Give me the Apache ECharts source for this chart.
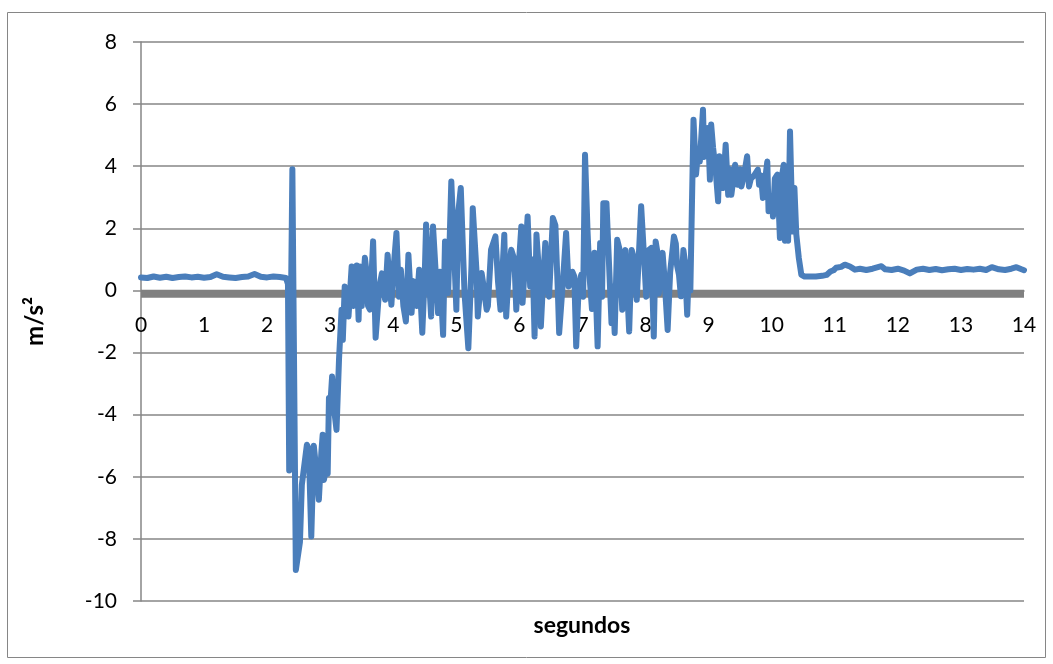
<!DOCTYPE html>
<html>
<head>
<meta charset="utf-8">
<title>Aceleración</title>
<script src="https://cdn.jsdelivr.net/npm/echarts@6/dist/echarts.min.js"></script>
<style>
  html, body { margin: 0; padding: 0; background: #ffffff; }
  #chart { width: 1053px; height: 664px; }
</style>
</head>
<body>
<div id="chart"></div>
<script>
// Time stamps (s) of the acceleration samples
const times = [
  0.0, 0.1, 0.2, 0.3, 0.4, 0.5, 0.6, 0.7, 0.8, 0.9, 1.0, 1.1, 1.2, 1.3, 1.4, 1.5,
  1.6, 1.7, 1.8, 1.9, 2.0, 2.1, 2.2, 2.3,
  2.33, 2.35, 2.38, 2.40, 2.455, 2.52, 2.55, 2.58, 2.63, 2.66, 2.70, 2.74, 2.79, 2.82,
  2.86, 2.88, 2.90, 2.93, 2.96, 2.98, 3.00, 3.03, 3.06, 3.10, 3.14, 3.18, 3.20, 3.23,
  3.29, 3.34, 3.37, 3.42, 3.45, 3.47, 3.50, 3.55, 3.58, 3.60, 3.63, 3.68, 3.72, 3.78,
  3.82, 3.84, 3.87, 3.91, 3.95, 3.97, 4.00, 4.05, 4.09, 4.12, 4.16, 4.20, 4.24, 4.29,
  4.32, 4.37, 4.41, 4.46, 4.50, 4.52, 4.56, 4.60, 4.63, 4.65, 4.71, 4.74, 4.79, 4.82,
  4.87, 4.92, 4.96, 5.00, 5.03, 5.07, 5.11, 5.13, 5.19, 5.24, 5.26, 5.32, 5.34, 5.40,
  5.42, 5.48, 5.50, 5.55, 5.62, 5.66, 5.70, 5.76, 5.79, 5.83, 5.87, 5.92, 5.95, 5.99,
  6.03, 6.05, 6.08, 6.13, 6.17, 6.21, 6.24, 6.27, 6.32, 6.34, 6.38, 6.41, 6.45, 6.47,
  6.53, 6.57, 6.61, 6.63, 6.69, 6.74, 6.78, 6.82, 6.84, 6.87, 6.90, 6.94, 6.98, 7.01,
  7.04, 7.08, 7.11, 7.15, 7.19, 7.24, 7.28, 7.31, 7.33, 7.38, 7.40, 7.46, 7.48, 7.51,
  7.55, 7.59, 7.63, 7.66, 7.68, 7.74, 7.78, 7.82, 7.86, 7.93, 7.97, 8.01, 8.05, 8.09,
  8.13, 8.16, 8.19, 8.21, 8.27, 8.30, 8.35, 8.39, 8.45, 8.48, 8.50, 8.53, 8.56, 8.60,
  8.62, 8.66, 8.69, 8.71, 8.76, 8.80, 8.82, 8.84, 8.86, 8.91, 8.93, 8.96, 8.99, 9.02,
  9.04, 9.07, 9.11, 9.15, 9.17, 9.20, 9.23, 9.27, 9.31, 9.34, 9.36, 9.42, 9.46, 9.50,
  9.52, 9.56, 9.61, 9.64, 9.67, 9.72, 9.78, 9.80, 9.83, 9.86, 9.88, 9.93, 9.95, 10.00,
  10.02, 10.05, 10.09, 10.13, 10.15, 10.19, 10.21, 10.24, 10.26, 10.29, 10.33, 10.36, 10.39, 10.43,
  10.47, 10.52, 10.6, 10.7, 10.8, 10.87, 10.93, 10.98, 11.02, 11.1, 11.16, 11.24, 11.32, 11.4,
  11.5, 11.6, 11.74, 11.8, 11.9, 12.0, 12.1, 12.19, 12.3, 12.4, 12.5, 12.6, 12.7, 12.8,
  12.9, 13.0, 13.1, 13.2, 13.3, 13.4, 13.49, 13.6, 13.7, 13.8, 13.88, 13.95, 14.0
];

// Measured acceleration (m/s²)
const accel = [
  0.42, 0.40, 0.45, 0.41, 0.44, 0.40, 0.43, 0.45, 0.42, 0.44, 0.41, 0.43, 0.52, 0.44, 0.42, 0.40,
  0.43, 0.45, 0.53, 0.44, 0.42, 0.45, 0.43, 0.40,
  0.20, -5.80, -5.85, 3.90, -9.00, -8.10, -6.26, -6.20, -4.97, -5.10, -7.92, -5.00, -6.00, -6.74,
  -5.20, -4.65, -6.10, -5.80, -5.90, -3.46, -3.74, -2.77, -3.80, -4.49, -2.20, -0.62, -1.59, 0.13,
  -0.84, 0.77, -0.50, 0.80, -0.94, 0.77, -0.50, 1.05, 0.50, -0.50, -0.62, 1.58, -1.52, 0.13,
  0.55, 0.60, -0.30, 1.15, 0.00, -0.46, 0.60, 1.85, -0.20, 0.67, -0.50, -1.00, 1.15, -0.72,
  0.30, -0.50, 0.67, -1.36, 0.60, 2.12, 0.60, -0.84, 2.06, 2.00, -0.73, 0.60, -1.43, 1.58,
  -0.08, 3.51, 1.50, -0.62, 2.50, 3.30, 1.00, -0.10, -1.86, 0.80, 2.65, 0.60, -0.84, 0.56,
  0.30, -0.62, -0.50, 1.31, 1.74, 0.30, -0.62, 1.79, -0.84, 0.60, 1.31, 0.99, -0.62, 0.80,
  2.06, -0.40, 0.60, 2.38, 0.13, 1.00, -1.48, 1.80, 0.30, -1.16, 0.50, 1.53, 0.00, -0.20,
  2.33, 2.10, -0.08, -1.37, 0.30, 1.85, 0.13, 0.35, 0.60, 0.45, -1.80, 0.13, 0.50, -0.20,
  4.37, 1.90, 0.50, -0.60, 1.21, -1.80, 1.53, -0.20, 2.81, 2.81, 2.81, -1.05, 0.13, -1.37,
  1.63, 1.30, -0.62, 1.15, 1.30, -1.32, 1.30, 1.00, -0.30, 2.71, 1.30, -0.20, 1.30, 1.37,
  -1.48, 1.58, 1.20, -0.10, 1.21, 0.40, -1.27, 0.60, 1.74, 1.50, 0.80, 0.50, -0.19, 1.30,
  1.00, -0.78, 0.90, 0.00, 5.50, 3.73, 4.21, 4.40, 4.15, 5.82, 4.30, 4.50, 5.23, 3.57,
  5.34, 4.60, 3.90, 2.87, 4.32, 3.70, 3.30, 4.69, 3.08, 3.90, 3.08, 4.05, 3.40, 3.90,
  3.35, 3.70, 4.32, 3.35, 3.60, 3.70, 3.89, 3.40, 3.70, 2.98, 3.30, 4.15, 2.55, 2.90,
  2.38, 3.60, 3.73, 1.69, 3.50, 4.05, 1.60, 3.90, 1.60, 5.12, 1.90, 3.30, 1.80, 1.04,
  0.50, 0.45, 0.45, 0.45, 0.47, 0.50, 0.61, 0.65, 0.73, 0.76, 0.83, 0.77, 0.67, 0.70,
  0.66, 0.70, 0.78, 0.68, 0.66, 0.70, 0.64, 0.55, 0.67, 0.70, 0.66, 0.69, 0.65, 0.68,
  0.70, 0.66, 0.69, 0.67, 0.70, 0.66, 0.75, 0.68, 0.66, 0.70, 0.75, 0.69, 0.65
];

// Reference level drawn as a thick grey band
const refTimes = [0, 14];
const refLevel = [-0.11, -0.11];

// Axis ranges and ticks
const xRange = [0, 14];
const xStep = 1;
const yRange = [-10, 8];
const yStep = 2;

const seriesData = times.map((t, i) => [t, accel[i]]);
const refData = refTimes.map((t, i) => [t, refLevel[i]]);

const FONT = 'Lato, "Open Sans", sans-serif';
const AXIS_GREY = '#868686';

// Plot box
const GRID = { left: 141, right: 29, top: 42, bottom: 63 };
const plotHeight = 664 - GRID.top - GRID.bottom;
// distance from the bottom of the plot up to the 0 m/s² level
const zeroFromBottom = plotHeight * (0 - yRange[0]) / (yRange[1] - yRange[0]);

const chart = echarts.init(document.getElementById('chart'), null, { renderer: 'canvas' });

chart.setOption({
  animation: false,
  backgroundColor: '#ffffff',
  grid: Object.assign({ containLabel: false }, GRID),
  xAxis: {
    type: 'value',
    min: xRange[0],
    max: xRange[1],
    interval: xStep,
    position: 'bottom',
    // time axis crosses the vertical axis at 0 m/s²
    offset: -zeroFromBottom,
    axisLine: { show: true, onZero: false, lineStyle: { color: AXIS_GREY, width: 1.5 } },
    axisTick: { show: false },
    splitLine: { show: false },
    axisLabel: { color: '#000', fontSize: 21, fontFamily: FONT, margin: 24 }
  },
  yAxis: {
    type: 'value',
    min: yRange[0],
    max: yRange[1],
    interval: yStep,
    name: 'm/s²',
    nameLocation: 'middle',
    nameGap: 94,
    nameTextStyle: { color: '#000', fontSize: 24, fontWeight: 'bold', fontFamily: FONT },
    axisLine: { show: true, onZero: false, lineStyle: { color: AXIS_GREY, width: 1.5 } },
    axisTick: { show: true, length: 8, lineStyle: { color: AXIS_GREY, width: 1.5 } },
    splitLine: { show: true, lineStyle: { color: AXIS_GREY, width: 1.5 } },
    axisLabel: { color: '#000', fontSize: 21, fontFamily: FONT, margin: 24 }
  },
  graphic: [
    {
      type: 'rect',
      shape: { x: 7.5, y: 12.5, width: 1038, height: 645 },
      style: { fill: 'none', stroke: '#868686', lineWidth: 1 },
      silent: true,
      z: -10
    },
    {
      type: 'text',
      x: 582,
      y: 626,
      style: {
        text: 'segundos',
        fill: '#000',
        font: 'bold 23px ' + FONT,
        textAlign: 'center',
        textVerticalAlign: 'middle'
      }
    }
  ],
  series: [
    {
      type: 'line',
      data: refData,
      showSymbol: false,
      lineStyle: { color: '#808080', width: 8, cap: 'butt' },
      z: 2
    },
    {
      type: 'line',
      data: seriesData,
      showSymbol: false,
      lineStyle: { color: '#4A7EBB', width: 6, join: 'round', cap: 'round' },
      z: 3
    }
  ]
});
</script>
</body>
</html>
